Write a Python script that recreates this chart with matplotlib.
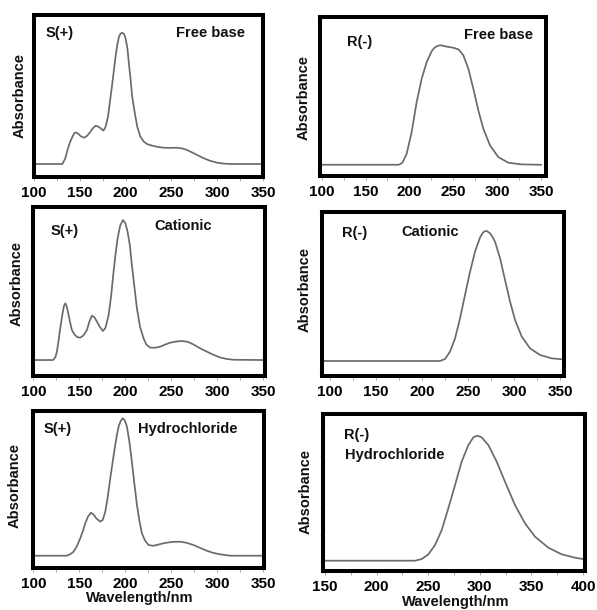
import matplotlib
matplotlib.use("Agg")
import matplotlib.pyplot as plt
from matplotlib.ticker import MultipleLocator

plt.rcParams['font.family'] = ['Liberation Sans', 'DejaVu Sans']

# ---- spectra (wavelength in nm, absorbance normalised to the main peak) ----
s_free_wl = [100, 131, 134, 136.6, 139, 142, 144, 145.6, 148, 151, 154.7, 158, 161, 164,
             167.4, 170, 172.8, 175.7, 178, 180.8, 183, 185.5, 189, 191, 192.8, 194.5,
             196.4, 198.3, 200, 202, 203.6, 205.5, 207.2, 210, 212.7, 216, 219.9, 224,
             229, 235, 241.6, 248, 256, 262, 267, 272, 278, 285, 292, 300, 307, 315, 350]
s_free_abs = [0, 0, 0.04, 0.107, 0.16, 0.208, 0.235, 0.241, 0.232, 0.212, 0.20, 0.215,
              0.24, 0.27, 0.292, 0.285, 0.272, 0.254, 0.28, 0.36, 0.48, 0.614, 0.817,
              0.91, 0.97, 0.993, 1.0, 0.99, 0.957, 0.88, 0.766, 0.64, 0.513, 0.39, 0.284,
              0.21, 0.17, 0.15, 0.14, 0.13, 0.124, 0.123, 0.124, 0.118, 0.107, 0.09,
              0.069, 0.045, 0.025, 0.01, 0.003, 0, 0]

r_free_wl = [100, 187.4, 189.5, 191.9, 194, 196.9, 202.6, 208.3, 214, 219.7, 225.4,
             228.5, 231.1, 233.5, 236, 242.5, 250, 255.8, 258.5, 261.5, 267.2, 272.9,
             278.6, 284.3, 291.9, 301.4, 312.8, 328, 350]
r_free_abs = [0, 0, 0.005, 0.017, 0.045, 0.092, 0.274, 0.525, 0.72, 0.86, 0.95, 0.978,
              0.992, 0.998, 1.0, 0.989, 0.98, 0.966, 0.945, 0.916, 0.804, 0.637, 0.455,
              0.302, 0.162, 0.064, 0.017, 0.003, 0]

s_cat_wl = [100, 121.4, 124, 125.7, 127.5, 129.3, 131.5, 133.3, 134.8, 136.5, 138.4,
            140, 142, 145, 148, 151, 154.5, 158.3, 161, 163.8, 166.5, 169.2, 172.5,
            175.7, 178.5, 181.9, 184.5, 187.3, 189.5, 191.7, 194.5, 197.5, 200, 202.5,
            205, 207.2, 210, 212.7, 216, 219.9, 223, 227.2, 232, 238, 243, 249, 255,
            261.6, 268, 274, 281, 288.8, 296, 303, 310, 317.7, 352]
s_cat_abs = [0, 0, 0.02, 0.06, 0.14, 0.226, 0.32, 0.385, 0.405, 0.38, 0.321, 0.27,
             0.214, 0.18, 0.163, 0.16, 0.175, 0.214, 0.275, 0.317, 0.305, 0.274, 0.235,
             0.207, 0.23, 0.321, 0.45, 0.631, 0.76, 0.869, 0.96, 1.0, 0.98, 0.917, 0.82,
             0.679, 0.52, 0.369, 0.24, 0.155, 0.11, 0.088, 0.088, 0.095, 0.11, 0.124,
             0.132, 0.136, 0.13, 0.112, 0.085, 0.06, 0.037, 0.019, 0.008, 0.002, 0]

r_cat_wl = [92, 219.6, 225, 230.4, 235.9, 241.3, 246.7, 252.2, 257.6, 263, 265.5,
            267.4, 270.3, 273.9, 276.5, 279.3, 284.8, 290.2, 295.7, 301.1, 308.4,
            317.4, 328.3, 341, 352.5]
r_cat_abs = [0, 0, 0.015, 0.072, 0.174, 0.328, 0.508, 0.687, 0.841, 0.949, 0.98, 0.995,
             1.0, 0.982, 0.955, 0.918, 0.79, 0.623, 0.456, 0.315, 0.187, 0.097, 0.046,
             0.02, 0.013]

s_hcl_wl = [99.5, 136.6, 140, 143.8, 147.5, 151, 154, 156.5, 159.5, 162.7, 165.5,
            168.5, 172.8, 175.5, 178.3, 181, 183.7, 186.5, 189.1, 191, 192.8, 195,
            197.1, 199.5, 201.8, 204.5, 207.2, 210, 212.7, 215.5, 218.1, 221.5, 225.3,
            230, 234.4, 240, 247, 253, 259.8, 266, 274.2, 281, 288.8, 296, 303.3, 314,
            350.5]
s_hcl_abs = [0, 0, 0.01, 0.029, 0.07, 0.126, 0.18, 0.235, 0.285, 0.313, 0.3, 0.272,
             0.248, 0.26, 0.32, 0.43, 0.563, 0.69, 0.806, 0.88, 0.94, 0.98, 1.0, 0.985,
             0.94, 0.83, 0.684, 0.52, 0.369, 0.25, 0.163, 0.11, 0.078, 0.072, 0.078,
             0.088, 0.097, 0.101, 0.102, 0.095, 0.078, 0.058, 0.036, 0.02, 0.01, 0, 0]

r_hcl_wl = [148, 237.2, 243.7, 250.1, 256.6, 263.1, 269.5, 276, 282.4, 288.9, 293.7,
            297.6, 301.8, 308.3, 316.4, 324.4, 334.1, 343.8, 353.5, 366.4, 379.3,
            392.2, 400.3]
r_hcl_abs = [0, 0, 0.013, 0.05, 0.125, 0.245, 0.419, 0.605, 0.792, 0.925, 0.987, 1.0,
             0.987, 0.925, 0.792, 0.632, 0.445, 0.299, 0.192, 0.104, 0.051, 0.024, 0.013]

ticks_left = [100, 150, 200, 250, 300, 350]
ticks_r_hcl = [150, 200, 250, 300, 350, 400]

W, H = 597, 610
fig = plt.figure(figsize=(W / 100, H / 100), dpi=100)

LINE = '#6b6b6b'
BOLD = dict(fontweight='bold', color='#111111')


def panel(l, r, t, b, wl, ab, xlim, ylim, ticks, ytick_marks=False):
    ax = fig.add_axes([l / W, 1 - b / H, (r - l) / W, (b - t) / H])
    ax.plot(wl, ab, color=LINE, lw=1.25, solid_joinstyle='round')
    ax.set_xlim(*xlim)
    ax.set_ylim(*ylim)
    ax.set_xticks(ticks)
    ax.xaxis.set_minor_locator(MultipleLocator(25))
    ax.tick_params(axis='x', which='both', direction='out', length=3, width=0.6,
                   color='#999999', pad=3.5, labelsize=11)
    for lab in ax.get_xticklabels():
        lab.set_fontweight('bold')
    if ytick_marks:
        ax.yaxis.set_major_locator(MultipleLocator((ylim[1] - ylim[0]) / 6))
        ax.tick_params(axis='y', direction='out', length=2.5, width=0.6,
                       color='#aaaaaa', labelleft=False)
    else:
        ax.set_yticks([])
    for s in ax.spines.values():
        s.set_linewidth(2.9)
        s.set_color('black')
    return ax


def ftext(x, y, s, size=10.5, ha='center', rot=0):
    fig.text(x / W, 1 - y / H, s, ha=ha, va='center', fontsize=size,
             rotation=rot, **BOLD)


# top row: free base
panel(34, 263, 15, 177, s_free_wl, s_free_abs, (100, 350), (-0.099, 1.135), ticks_left)
panel(320, 545.7, 17, 175.5, r_free_wl, r_free_abs, (98.1, 355.4), (-0.09, 1.237), ticks_left)
# middle row: cationic
panel(33.3, 265, 207, 376, s_cat_wl, s_cat_abs, (100, 352), (-0.114, 1.093), ticks_left,
      ytick_marks=True)
panel(322.3, 564, 211.7, 375.8, r_cat_wl, r_cat_abs, (91.6, 354.3), (-0.114, 1.148), ticks_left)
# bottom row: hydrochloride
panel(32.8, 263.7, 411, 567.8, s_hcl_wl, s_hcl_abs, (99.5, 350.5), (-0.088, 1.053), ticks_left)
panel(323, 585.3, 414, 570.8, r_hcl_wl, r_hcl_abs, (148.1, 402.2), (-0.081, 1.174), ticks_r_hcl,
      ytick_marks=True)

# panel annotations
ftext(60, 33, 'S(+)')
ftext(210, 33, 'Free base')
ftext(360, 42, 'R(-)')
ftext(499, 35, 'Free base')
ftext(65, 231, 'S(+)')
ftext(183, 226, 'Cationic')
ftext(355, 233, 'R(-)')
ftext(430, 232, 'Cationic')
ftext(58, 429, 'S(+)')
ftext(188, 429, 'Hydrochloride')
ftext(344, 435, 'R(-)', ha='left')
ftext(345, 455, 'Hydrochloride', ha='left')

# axis titles
for x, y in [(20, 95), (304, 97), (17, 283), (305, 290), (15, 485), (306, 492)]:
    ftext(x, y, 'Absorbance', size=10.5, rot=90)
ftext(140, 598, 'Wavelength/nm', size=10.5)
ftext(456, 602, 'Wavelength/nm', size=10.5)

fig.savefig('out.png', dpi=100, facecolor='white')
